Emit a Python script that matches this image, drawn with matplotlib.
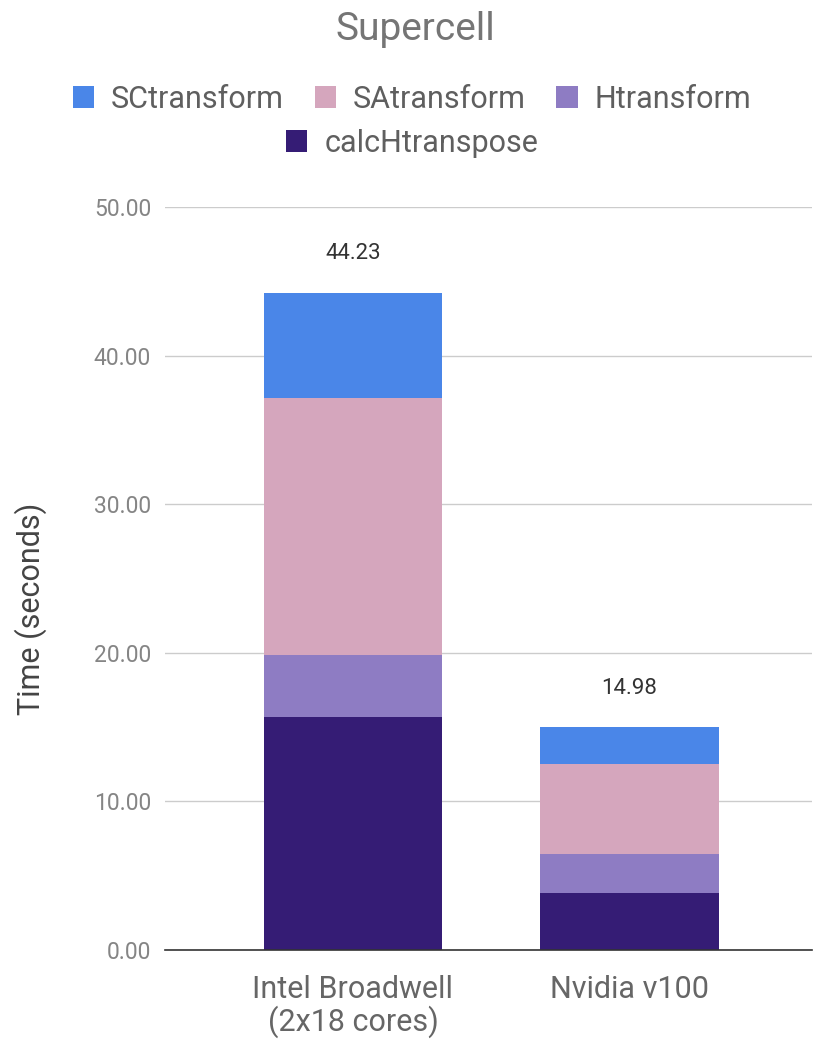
import numpy as np
import matplotlib
matplotlib.use("Agg")
import matplotlib.pyplot as plt
from matplotlib.patches import Patch

plt.rcParams['font.family'] = ['Roboto', 'DejaVu Sans']

# Run times per kernel (seconds), stacked bottom to top
platforms = ['Intel Broadwell\n(2x18 cores)', 'Nvidia v100']
calcHtranspose = [15.66, 3.86]
Htransform = [4.19, 2.60]
SAtransform = [17.27, 6.06]
SCtransform = [7.11, 2.46]
totals = [44.23, 14.98]

series = [
    ('calcHtranspose', calcHtranspose, '#351c75'),
    ('Htransform', Htransform, '#8e7cc3'),
    ('SAtransform', SAtransform, '#d5a6bd'),
    ('SCtransform', SCtransform, '#4a86e8'),
]

fig = plt.figure(figsize=(8.15, 10.41), dpi=100)
ax = fig.add_axes([0.2025, 0.0874, 0.7935, 0.7138])

x = np.arange(len(platforms))
bottom = np.zeros(len(platforms))
for name, vals, color in series:
    ax.bar(x, vals, width=0.646, bottom=bottom, color=color, label=name, zorder=3)
    bottom += np.array(vals)

# totals above each stack
for xi, t in zip(x, totals):
    ax.text(xi, t + 2.63, f'{t:.2f}', ha='center', va='center', fontsize=16, color='#333333')

ax.set_xlim(-0.68, 1.66)
ax.set_ylim(0, 50)
ax.set_yticks(np.arange(0, 51, 10))
ax.set_yticklabels([f'{v:.2f}' for v in np.arange(0, 51, 10)])
ax.set_xticks(x)
ax.set_xticklabels(platforms, fontsize=22, color='#666666', linespacing=1.05)
ax.tick_params(axis='y', length=0, labelsize=16.5, labelcolor='#858585', pad=10)
ax.tick_params(axis='x', length=0, pad=18)
ax.grid(axis='y', color='#cccccc', linewidth=1, zorder=0)
for s in ['top', 'right', 'left']:
    ax.spines[s].set_visible(False)
ax.spines['bottom'].set_color('#333333')
ax.spines['bottom'].set_linewidth(1.2)
ax.spines['bottom'].set_zorder(4)

fig.text(31 / 815, 1 - 609 / 1041, 'Time (seconds)', rotation=90, ha='center', va='center',
         fontsize=22, color='#444444')
fig.text(415 / 815, 1 - 30 / 1041, 'Supercell', ha='center', va='center', fontsize=28, color='#757575')

colors = {n: c for n, _, c in series}
row1 = [Patch(facecolor=colors[n], label=n) for n in ['SCtransform', 'SAtransform', 'Htransform']]
row2 = [Patch(facecolor=colors['calcHtranspose'], label='calcHtranspose')]
leg_kw = dict(frameon=False, fontsize=22, handlelength=0.7, handleheight=0.7,
              handletextpad=0.55, labelcolor='#5f5f5f', borderpad=0)
fig.legend(handles=row1, ncol=3, loc='center', bbox_to_anchor=(412 / 815, 1 - 99 / 1041),
           columnspacing=1.0, **leg_kw)
fig.legend(handles=row2, ncol=1, loc='center', bbox_to_anchor=(412 / 815, 1 - 143 / 1041), **leg_kw)

fig.savefig('out.png', dpi=100, facecolor='white')
